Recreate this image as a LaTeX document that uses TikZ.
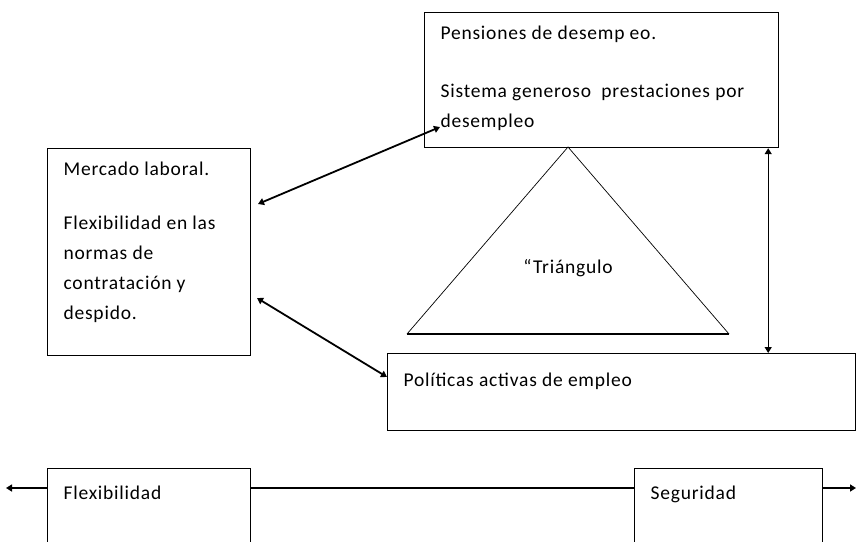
\documentclass[tikz,border=0pt]{standalone}
\usepackage{fontspec}
\setmainfont{Carlito}[LetterSpace=4]
\usetikzlibrary{arrows.meta}
\tikzset{
caja/.style={draw,line width=1.2pt,fill=white,anchor=north west,inner xsep=16pt,inner ysep=13pt},
flecha/.style={line width=1.8pt,{Triangle[length=6pt,width=7pt]}-{Triangle[length=6pt,width=7pt]}}}
\newcommand{\Texto}[3]{\parbox[t][#2][t]{#1}{\fontsize{19.5}{30}\selectfont #3}}
\begin{document}
\begin{tikzpicture}[x=1pt,y=-1pt]
\path[use as bounding box](0,0)rectangle(857,541);
\node[caja](pens)at(424,12){\Texto{322pt}{109pt}{Pensiones de desemp eo.\\[28pt]Sistema generoso\ \ prestaciones por\\desempleo}};
\node[caja](merc)at(47,148){\Texto{171pt}{181pt}{Mercado laboral.\\[24pt]Flexibilidad en las\\normas de\\contratación y\\despido.}};
\node[caja,inner ysep=19pt](pol)at(387,353){\Texto{436pt}{39pt}{Políticas activas de empleo}};
\coordinate(apex)at(568,147);
\coordinate(bl)at(407,334);
\coordinate(br)at(729,334);
\draw[line width=.7pt](bl)--(apex)--(br);
\draw[line width=2.2pt](bl)--(br);
\node(tri)at(568,268){\fontsize{19.5}{20}\selectfont“Triángulo};
\coordinate(m1)at(258,204);
\coordinate(p1)at(440,127);
\coordinate(m2)at(257,298);
\coordinate(q2)at(387,377);
\draw[flecha](m1)--(p1);
\draw[flecha](m2)--(q2);
\draw[flecha,line width=1.3pt]([xshift=-11pt]pens.south east)--([xshift=-11pt]pens.south east|-pol.north);
\coordinate(izq)at(6,488);
\coordinate(der)at(856,488);
\draw[flecha,line width=2.2pt](izq)--(der);
\node[caja,inner ysep=17pt](flex)at(47,468){\Texto{171pt}{90pt}{Flexibilidad}};
\node[caja,inner ysep=17pt](seg)at(634,468){\Texto{156pt}{90pt}{Seguridad}};
\end{tikzpicture}
\end{document}
